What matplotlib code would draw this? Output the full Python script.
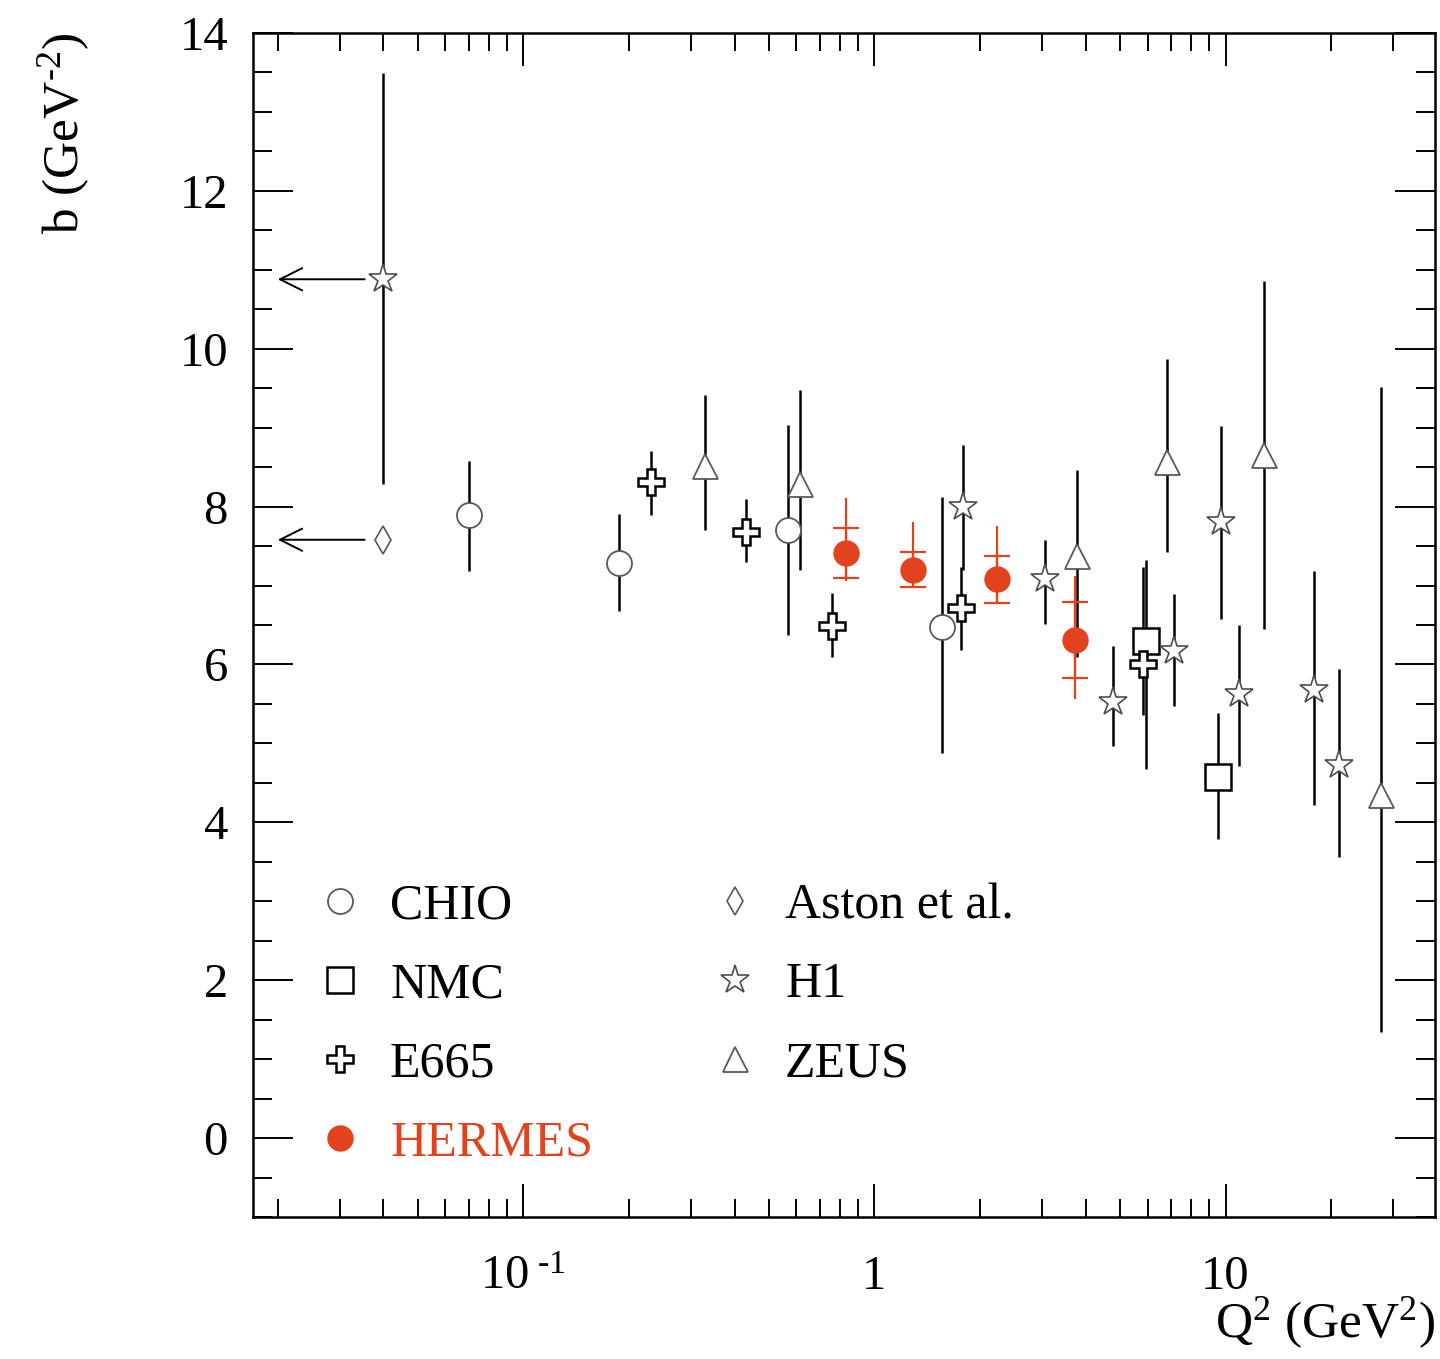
import numpy as np
import matplotlib.pyplot as plt
from matplotlib.ticker import MultipleLocator, FixedLocator, LogLocator, NullFormatter

plt.rcParams['font.family'] = ['Liberation Serif', 'DejaVu Serif']
plt.rcParams['mathtext.fontset'] = 'custom'
plt.rcParams['mathtext.rm'] = 'Liberation Serif'
plt.rcParams['mathtext.it'] = 'Liberation Serif:italic'

# Q2 (GeV^2), b (GeV^-2), upper / lower errors
chio_q2 = [0.070, 0.188, 0.567, 1.556]
chio_b = [7.89, 7.29, 7.70, 6.48]
chio_up = [0.69, 0.61, 1.33, 1.64]
chio_dn = [0.70, 0.61, 1.33, 1.60]

nmc_q2 = [5.94, 9.52]
nmc_b = [6.30, 4.58]
nmc_up = [1.02, 0.80]
nmc_dn = [1.62, 0.79]

e665_q2 = [0.231, 0.430, 0.757, 1.763, 5.82]
e665_b = [8.31, 7.68, 6.49, 6.72, 6.00]
e665_up = [0.39, 0.42, 0.41, 0.51, 1.23]
e665_dn = [0.42, 0.38, 0.40, 0.54, 0.64]

hermes_q2 = [0.829, 1.287, 2.23, 3.72]
hermes_b = [7.41, 7.20, 7.08, 6.31]
hermes_stat = [0.32, 0.22, 0.30, 0.48]
hermes_tot_up = [0.70, 0.61, 0.67, 0.81]
hermes_tot_dn = [0.35, 0.22, 0.30, 0.75]

aston_q2 = [0.0398]
aston_b = [7.58]

h1_q2 = [0.0398, 1.787, 3.07, 4.77, 7.15, 9.69, 10.93, 17.87, 21.1]
h1_b = [10.88, 7.99, 7.08, 5.53, 6.17, 7.80, 5.63, 5.68, 4.73]
h1_up = [2.61, 0.79, 0.50, 0.70, 0.72, 1.22, 0.87, 1.51, 1.21]
h1_dn = [2.60, 0.79, 0.57, 0.56, 0.70, 1.23, 0.92, 1.46, 1.17]

zeus_q2 = [0.329, 0.615, 3.77, 6.80, 12.9, 27.7]
zeus_b = [8.52, 8.29, 7.38, 8.56, 8.66, 4.34]
zeus_up = [0.90, 1.19, 1.09, 1.31, 2.20, 5.17]
zeus_dn = [0.82, 1.09, 1.29, 1.13, 2.21, 3.00]

# points at Q2 ~ 0 shown with arrows towards the axis
arrow_tip_q2 = 0.02

xtick_vals = [0.1, 1, 10]
xtick_labels = [r'$10^{\ \text{-}1}$', '1', '10']

red = '#e2421e'

fig = plt.figure(figsize=(14.4, 13.59), dpi=100)
ax = fig.add_axes([253 / 1440, 1 - 1217 / 1359, (1435 - 253) / 1440, (1217 - 33) / 1359])

ebkw = dict(fmt='none', ecolor='black', elinewidth=1.8, capsize=0, zorder=2)

# error bars
ax.errorbar(chio_q2, chio_b, yerr=[chio_dn, chio_up], **ebkw)
ax.errorbar(nmc_q2, nmc_b, yerr=[nmc_dn, nmc_up], **ebkw)
ax.errorbar(e665_q2, e665_b, yerr=[e665_dn, e665_up], **ebkw)
ax.errorbar(h1_q2, h1_b, yerr=[h1_dn, h1_up], **ebkw)
ax.errorbar(zeus_q2, zeus_b, yerr=[zeus_dn, zeus_up], **ebkw)
ax.errorbar(hermes_q2, hermes_b, yerr=[hermes_tot_dn, hermes_tot_up], fmt='none',
            ecolor=red, elinewidth=1.6, capsize=0, zorder=2)
ax.errorbar(hermes_q2, hermes_b, yerr=hermes_stat, fmt='none',
            ecolor=red, elinewidth=1.6, capsize=9.5, capthick=1.6, zorder=2)

# markers
ax.plot(chio_q2, chio_b, ls='none', marker='o', ms=18, mfc='white', mec='0.35', mew=1.3,
        label='CHIO', zorder=3)
ax.plot(nmc_q2, nmc_b, ls='none', marker='s', ms=19, mfc='white', mec='black', mew=1.8,
        label='NMC', zorder=3)
ax.plot(e665_q2, e665_b, ls='none', marker='P', ms=19, mfc='white', mec='black', mew=1.8,
        label='E665', zorder=3)
ax.plot(hermes_q2, hermes_b, ls='none', marker='o', ms=18, mfc=red, mec=red, mew=1,
        label='HERMES', zorder=3)
ax.plot(aston_q2, aston_b, ls='none', marker='d', ms=14, mfc='white', mec='0.35', mew=1.2,
        label='Aston et al.', zorder=3)
ax.plot(h1_q2, h1_b, ls='none', marker='*', ms=21, mfc='white', mec='0.3', mew=1.2,
        label='H1', zorder=3)
ax.plot(zeus_q2, zeus_b, ls='none', marker='^', ms=18, mfc='white', mec='0.35', mew=1.3,
        label='ZEUS', zorder=3)

# arrows for the photoproduction points
for q, b in [(aston_q2[0], aston_b[0]), (h1_q2[0], h1_b[0])]:
    ax.annotate('', xy=(arrow_tip_q2, b), xytext=(q, b),
                arrowprops=dict(arrowstyle='->,head_length=1.6,head_width=0.8',
                                color='black', lw=1.4, shrinkA=13, shrinkB=0,
                                mutation_scale=10))

ax.set_xscale('log')
ax.set_xlim(0.017, 39.5)
ax.set_ylim(-1, 14)

ax.xaxis.set_major_locator(FixedLocator(xtick_vals))
ax.xaxis.set_minor_locator(LogLocator(base=10, subs=np.arange(2, 10)))
ax.xaxis.set_minor_formatter(NullFormatter())
ax.set_xticks(xtick_vals)
ax.set_xticklabels(xtick_labels)
ax.yaxis.set_major_locator(MultipleLocator(2))
ax.yaxis.set_minor_locator(MultipleLocator(0.5))

ax.tick_params(axis='both', which='both', direction='in', top=True, right=True, width=1.4)
ax.tick_params(axis='x', which='major', length=24, pad=52, labelsize=35)
ax.tick_params(axis='x', which='minor', length=13)
ax.tick_params(axis='y', which='major', length=29, pad=18, labelsize=35)
ax.tick_params(axis='y', which='minor', length=14)
for t in ax.xaxis.get_major_ticks():
    t.label1.set_verticalalignment('baseline')

for sp in ax.spines.values():
    sp.set_linewidth(1.8)

ax.set_ylabel(r'b (GeV$^{\text{-}2}$)', fontsize=37, loc='top')
ax.yaxis.set_label_coords(-0.136, 1.0)
ax.set_xlabel(r'Q$^{2}$ (GeV$^{2}$)', fontsize=37, loc='right')
ax.xaxis.set_label_coords(1.0, -0.066)

leg = ax.legend(ncol=2, loc='upper left', bbox_to_anchor=(0.0525, 0.2824),
                frameon=False, fontsize=36, numpoints=1, handlelength=1.0,
                handletextpad=0.5, columnspacing=2.34, labelspacing=0.65,
                borderpad=0, borderaxespad=0)
leg.get_texts()[3].set_color(red)

fig.savefig('out.png', dpi=100)
